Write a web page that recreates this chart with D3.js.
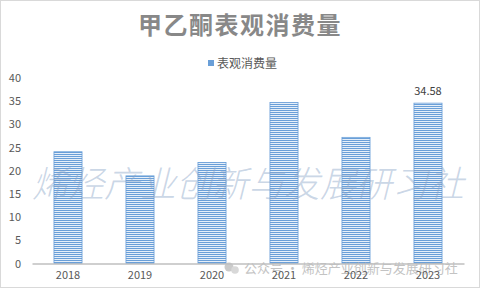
<!DOCTYPE html>
<html><head><meta charset="utf-8">
<script src="https://cdn.jsdelivr.net/npm/d3@7"></script>
<style>body{margin:0;background:#fff}svg{display:block}</style>
</head><body>
<script>
const title = "甲乙酮表观消费量";
const seriesName = "表观消费量";
const categories = ["2018","2019","2020","2021","2022","2023"];
const values = [24.1, 18.9, 21.8, 34.7, 27.2, 34.58];
const labelled = [false,false,false,false,false,true];
const yTicks = [0,5,10,15,20,25,30,35,40];
const watermark = "烯烃产业创新与发展研习社";
const footer = "公众号 · 烯烃产业创新与发展研习社";

const W=480,H=288;
const svg=d3.select("body").append("svg").attr("width",W).attr("height",H);
const font="'Noto Sans CJK SC','Noto Sans',sans-serif";
const defs=svg.append("defs");
const pat=defs.append("pattern").attr("id","stripe").attr("patternUnits","userSpaceOnUse")
  .attr("width",4).attr("height",2);
pat.append("rect").attr("width",4).attr("height",2).attr("fill","#e6eff9");
pat.append("rect").attr("width",4).attr("height",1).attr("fill","#6a9fd8");

svg.append("rect").attr("x",0.5).attr("y",0.5).attr("width",W-1).attr("height",H-1)
  .attr("fill","#fff").attr("stroke","#d9d9d9");

svg.append("text").attr("x",240).attr("y",34).attr("text-anchor","middle")
  .attr("font-family",font).attr("font-size",24).attr("font-weight",600)
  .attr("letter-spacing",1.5).attr("fill","#888888").text(title);

// legend
svg.append("rect").attr("x",208).attr("y",60).attr("width",6).attr("height",6).attr("fill","#6a9fd8");
svg.append("text").attr("x",217).attr("y",67.5).attr("font-family",font).attr("font-size",12)
  .attr("fill","#595959").text(seriesName);

const x=d3.scaleBand().domain(categories).range([32,464]).paddingInner(0.61).paddingOuter(0.305);
const y=d3.scaleLinear().domain([0,40]).range([263.5,78]);

const yAxis=d3.axisLeft(y).tickValues(yTicks).tickSize(0).tickPadding(0);
const gy=svg.append("g").attr("transform","translate(21,0)").call(yAxis);
gy.select(".domain").remove();
gy.selectAll("text").attr("font-family",font).attr("font-size",11).attr("fill","#595959");

svg.append("g").selectAll("rect").data(values).join("rect")
  .attr("x",(d,i)=>x(categories[i])).attr("width",x.bandwidth())
  .attr("y",d=>y(d)).attr("height",d=>y(0)-y(d))
  .attr("fill","url(#stripe)").attr("stroke","#6a9fd8").attr("stroke-width",0.8);

svg.append("g").selectAll("text").data(values.filter((d,i)=>labelled[i]).map(v=>({v,i:values.indexOf(v)})))
  .join("text").attr("x",d=>x(categories[d.i])+x.bandwidth()/2).attr("y",d=>y(d.v)-8)
  .attr("text-anchor","middle").attr("font-family",font).attr("font-size",11).attr("fill","#404040")
  .text(d=>d.v.toFixed(2));

// footer (under axis labels)
const fg=svg.append("g").attr("opacity",0.7);
fg.append("circle").attr("cx",229).attr("cy",267).attr("r",4.5).attr("fill","#b5b5b5");
fg.append("circle").attr("cx",235).attr("cy",270).attr("r",3.8).attr("fill","#c8c8c8");
fg.append("text").attr("x",244).attr("y",273).attr("font-family",font).attr("font-size",13)
  .attr("fill","#aaaaaa").text(footer);

const xAxis=d3.axisBottom(x).tickSize(0).tickPadding(8);
const gx=svg.append("g").attr("transform",`translate(0,${y(0)})`).call(xAxis);
gx.select(".domain").attr("stroke","#bfbfbf").attr("stroke-width",1.5);
gx.selectAll("text").attr("font-family",font).attr("font-size",11).attr("fill","#595959");

// watermark
svg.append("text").attr("transform","translate(248,197) skewX(-14)").attr("text-anchor","middle")
  .attr("font-family",font).attr("font-size",36).attr("font-weight",300)
  .attr("fill","#8aa5c8").attr("fill-opacity",0.45).text(watermark);
</script>
</body></html>
